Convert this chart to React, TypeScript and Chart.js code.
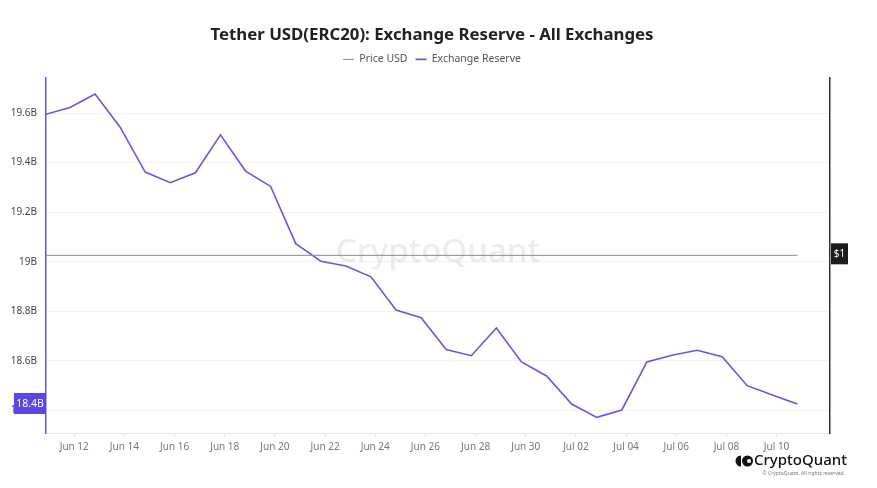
import React, { useEffect, useRef } from "react";
import { Chart, registerables } from "chart.js";

Chart.register(...registerables);

const dates = [
  "Jun 11", "Jun 12", "Jun 13", "Jun 14", "Jun 15", "Jun 16", "Jun 17", "Jun 18",
  "Jun 19", "Jun 20", "Jun 21", "Jun 22", "Jun 23", "Jun 24", "Jun 25", "Jun 26",
  "Jun 27", "Jun 28", "Jun 29", "Jun 30", "Jul 01", "Jul 02", "Jul 03", "Jul 04",
  "Jul 05", "Jul 06", "Jul 07", "Jul 08", "Jul 09", "Jul 10", "Jul 11",
];

// Exchange reserve in billions of USDT
const reserveB = [
  19.594, 19.623, 19.677, 19.543, 19.362, 19.319, 19.359, 19.512,
  19.366, 19.304, 19.073, 19.002, 18.983, 18.939, 18.805, 18.774,
  18.646, 18.621, 18.733, 18.596, 18.539, 18.426, 18.372, 18.402,
  18.596, 18.623, 18.643, 18.617, 18.5, 18.462, 18.426,
];

const priceUsd = [
  1, 1, 1, 1, 1, 1, 1, 1, 1, 1, 1, 1, 1, 1, 1, 1,
  1, 1, 1, 1, 1, 1, 1, 1, 1, 1, 1, 1, 1, 1, 1,
];

const xTickLabels = [
  "Jun 12", "Jun 14", "Jun 16", "Jun 18", "Jun 20", "Jun 22", "Jun 24", "Jun 26",
  "Jun 28", "Jun 30", "Jul 02", "Jul 04", "Jul 06", "Jul 08", "Jul 10",
];

const yTickValues = [18.4, 18.6, 18.8, 19, 19.2, 19.4, 19.6];

const TITLE = "Tether USD(ERC20): Exchange Reserve - All Exchanges";
const FONT = "'Noto Sans', 'Open Sans', sans-serif";
const PURPLE = "#6557e0";
const TICK_OFFSET = 0.17;

const fmtB = (v: number) => `${parseFloat(v.toFixed(1))}B`;

export default function App() {
  const ref = useRef<HTMLCanvasElement | null>(null);

  useEffect(() => {
    document.body.style.margin = "0";
    const canvas = ref.current;
    if (!canvas) return;

    const decor = {
      id: "decor",
      beforeUpdate(chart: any) {
        const lg = chart.legend;
        if (lg && !lg.__patched) {
          const orig = lg.fit.bind(lg);
          lg.fit = function () {
            orig();
            this.height += 3;
          };
          lg.__patched = true;
        }
      },
      beforeDatasetsDraw(chart: any) {
        const { ctx, chartArea } = chart;
        ctx.save();
        ctx.font = `500 33px ${FONT}`;
        ctx.fillStyle = "rgba(0,0,0,0.075)";
        ctx.textAlign = "center";
        ctx.textBaseline = "middle";
        ctx.fillText("CryptoQuant", (chartArea.left + chartArea.right) / 2, (chartArea.top + chartArea.bottom) / 2 - 3);
        ctx.restore();
      },
      afterDraw(chart: any) {
        const { ctx, scales } = chart;
        const y = scales.y;
        const y2 = scales.y2;
        ctx.save();
        // last value box on the left axis
        const last = reserveB[reserveB.length - 1];
        const ly = y.getPixelForValue(last);
        ctx.fillStyle = "#5b47e6";
        ctx.fillRect(14, ly - 11, 32, 21);
        ctx.fillStyle = "#ffffff";
        ctx.font = `10.5px ${FONT}`;
        ctx.textAlign = "center";
        ctx.textBaseline = "middle";
        ctx.fillText(fmtB(last), 30, ly);
        // price box on the right axis
        const py = y2.getPixelForValue(priceUsd[priceUsd.length - 1]);
        ctx.fillStyle = "#1c1c1c";
        ctx.fillRect(831, py - 12, 17, 21);
        ctx.fillStyle = "#ffffff";
        ctx.font = `10px ${FONT}`;
        ctx.fillText("$1", 839.5, py - 1.5);
        // logo
        ctx.fillStyle = "#111";
        ctx.beginPath();
        ctx.arc(741, 461, 5.5, Math.PI / 2, (3 * Math.PI) / 2);
        ctx.closePath();
        ctx.fill();
        ctx.beginPath();
        ctx.arc(747.5, 461, 5.5, 0, Math.PI * 2);
        ctx.fill();
        ctx.fillStyle = "#fff";
        ctx.beginPath();
        ctx.arc(749, 461, 2, 0, Math.PI * 2);
        ctx.fill();
        ctx.fillStyle = "#111";
        ctx.font = `500 15px ${FONT}`;
        ctx.textAlign = "left";
        ctx.textBaseline = "middle";
        ctx.fillText("CryptoQuant", 754, 461);
        ctx.fillStyle = "#777";
        ctx.font = `5px ${FONT}`;
        ctx.textAlign = "right";
        ctx.fillText("© CryptoQuant. All rights reserved.", 845, 474);
        ctx.restore();
      },
    };

    const chart = new Chart(canvas, {
      type: "line",
      data: {
        datasets: [
          {
            label: "Price USD",
            data: priceUsd.map((v, i) => ({ x: i, y: v })),
            yAxisID: "y2",
            borderColor: "#8a8a8a",
            backgroundColor: "#8a8a8a",
            borderWidth: 1,
            pointRadius: 0,
            tension: 0,
          },
          {
            label: "Exchange Reserve",
            data: reserveB.map((v, i) => ({ x: i, y: v })),
            yAxisID: "y",
            borderColor: PURPLE,
            backgroundColor: PURPLE,
            borderWidth: 1.6,
            pointRadius: 0,
            tension: 0,
          },
        ],
      },
      options: {
        responsive: false,
        animation: false,
        devicePixelRatio: 1,
        layout: { padding: { left: 0, right: 13, top: 0, bottom: 0 } },
        plugins: {
          title: {
            display: true,
            text: TITLE,
            color: "#222",
            font: { family: FONT, size: 16.8, weight: "bold" },
            padding: { top: 25, bottom: 1 },
          },
          legend: {
            display: true,
            labels: {
              usePointStyle: true,
              pointStyle: "line",
              pointStyleWidth: 11,
              color: "#555",
              font: { family: FONT, size: 10.5 },
              padding: 8,
            },
          },
          tooltip: { enabled: false },
        },
        scales: {
          x: {
            type: "linear",
            min: 0.044,
            max: 31.3,
            afterBuildTicks(scale: any) {
              scale.ticks = xTickLabels.map((l) => ({ value: dates.indexOf(l) + TICK_OFFSET }));
            },
            afterFit(scale: any) {
              scale.height = 55;
            },
            ticks: {
              autoSkip: false,
              maxRotation: 0,
              color: "#777",
              font: { family: FONT, size: 10 },
              padding: 4,
              callback: (v: any) => dates[Math.round(Number(v) - TICK_OFFSET)] ?? "",
            },
            grid: { display: true, drawOnChartArea: false, drawTicks: true, tickLength: 4, color: "#e6e6e6" },
            border: { display: true, color: "#e6e6e6" },
          },
          y: {
            type: "linear",
            position: "left",
            min: 18.309,
            max: 19.743,
            afterBuildTicks(scale: any) {
              scale.ticks = yTickValues.map((v) => ({ value: v }));
            },
            afterFit(scale: any) {
              scale.width = 46;
            },
            ticks: {
              color: "#444",
              font: { family: FONT, size: 10 },
              padding: 9,
              callback: (v: any) => fmtB(Number(v)),
            },
            grid: { color: "#f1f1f1", drawTicks: false },
            border: { display: true, color: PURPLE, width: 1.5 },
          },
          y2: {
            type: "linear",
            position: "right",
            min: 0.9,
            max: 1.1,
            afterFit(scale: any) {
              scale.width = 34;
            },
            ticks: { display: false },
            grid: { display: false },
            border: { display: true, color: "#333", width: 1.5 },
          },
        },
      },
      plugins: [decor],
    } as any);

    return () => chart.destroy();
  }, []);

  return (
    <div style={{ width: 877, height: 488, background: "#fff" }}>
      <canvas ref={ref} width={877} height={488} style={{ display: "block", width: 877, height: 488 }} />
    </div>
  );
}
